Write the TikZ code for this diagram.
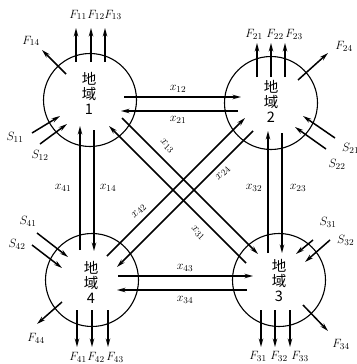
\documentclass[tikz,border=0pt]{standalone}
\usepackage{fontspec}
\newfontfamily\cjk{Noto Sans CJK SC}
\usetikzlibrary{arrows.meta}
\begin{document}
\begin{tikzpicture}[x=1pt,y=-1pt,
  region/.style={circle,draw,line width=1.1pt,minimum size=93pt,inner sep=0pt},
  rtext/.style={align=center,inner sep=0pt,font=\cjk\fontsize{14.5}{15}\selectfont},
  arr/.style={line width=1.5pt,-{Stealth[length=8.5pt,width=4.5pt]}},
  lab/.style={inner sep=0pt,font=\fontsize{13}{14}\selectfont}]
\useasboundingbox[fill=white] (0,0) rectangle (356,364);
% regions
\node[region] (c1) at (90,100) {};
\node[region] (c2) at (271,103) {};
\node[region] (c3) at (279,280) {};
\node[region] (c4) at (92,280) {};
\node[rtext] (t1) at (89,93) {地\\域\\\textit{1}};
\node[rtext] (t2) at (271,101) {地\\域\\2};
\node[rtext] (t3) at (279,281) {地\\域\\3};
\node[rtext] (t4) at (91,282) {地\\域\\\textit{4}};
% coordinates of flows
\coordinate (a12) at (124,97);  \coordinate (b12) at (241,97);
\coordinate (a21) at (238,111); \coordinate (b21) at (121,111);
\coordinate (a41) at (80,250);  \coordinate (b41) at (80,126);
\coordinate (a14) at (94,130);  \coordinate (b14) at (94,251);
\coordinate (a32) at (268,253); \coordinate (b32) at (268,131);
\coordinate (a23) at (282,133); \coordinate (b23) at (282,253);
\coordinate (a43) at (118,276); \coordinate (b43) at (253,276);
\coordinate (a34) at (247,290); \coordinate (b34) at (117,290);
\coordinate (a13) at (122,118); \coordinate (b13) at (258,254);
\coordinate (a31) at (246,263); \coordinate (b31) at (109,126);
\coordinate (a42) at (107,256); \coordinate (b42) at (245,118);
\coordinate (a24) at (253,131); \coordinate (b24) at (117,267);
\draw[arr] (a12) -- (b12);
\draw[arr] (a21) -- (b21);
\draw[arr] (a41) -- (b41);
\draw[arr] (a14) -- (b14);
\draw[arr] (a32) -- (b32);
\draw[arr] (a23) -- (b23);
\draw[arr] (a43) -- (b43);
\draw[arr] (a34) -- (b34);
\draw[arr] (a13) -- (b13);
\draw[arr] (a31) -- (b31);
\draw[arr] (a42) -- (b42);
\draw[arr] (a24) -- (b24);
\node[lab] (l12) at (178,89) {$x_{12}$};
\node[lab] (l21) at (178,120) {$x_{21}$};
\node[lab] (l41) at (63,188) {$x_{41}$};
\node[lab] (l14) at (108,188) {$x_{14}$};
\node[lab] (l32) at (254,188) {$x_{32}$};
\node[lab] (l23) at (298,188) {$x_{23}$};
\node[lab] (l43) at (185,268) {$x_{43}$};
\node[lab] (l34) at (185,300) {$x_{34}$};
\node[lab,rotate=-45] (l13) at (167,146) {$x_{13}$};
\node[lab,rotate=-45] (l31) at (198,233) {$x_{31}$};
\node[lab,rotate=45] (l42) at (139,211) {$x_{42}$};
\node[lab,rotate=45] (l24) at (223,173) {$x_{24}$};
% region 1 in/out
\coordinate (p11) at (76,62);  \coordinate (q11) at (76,28);
\coordinate (p12) at (91,62);  \coordinate (q12) at (91,28);
\coordinate (p13) at (105,62); \coordinate (q13) at (105,28);
\coordinate (p14) at (66,74);  \coordinate (q14) at (42,50);
\coordinate (s11) at (32,133); \coordinate (u11) at (60,116);
\coordinate (s12) at (40,144); \coordinate (u12) at (67,124);
\draw[arr] (p11) -- (q11);
\draw[arr] (p12) -- (q12);
\draw[arr] (p13) -- (q13);
\draw[arr] (p14) -- (q14);
\draw[arr] (s11) -- (u11);
\draw[arr] (s12) -- (u12);
\node[lab] (f11) at (78,15) {$F_{11}$};
\node[lab] (f12) at (96,15) {$F_{12}$};
\node[lab] (f13) at (113,15) {$F_{13}$};
\node[lab] (f14) at (31,41) {$F_{14}$};
\node[lab] (g11) at (15,137) {$S_{11}$};
\node[lab] (g12) at (40,155) {$S_{12}$};
% region 2
\coordinate (p21) at (257,77);  \coordinate (q21) at (257,43);
\coordinate (p22) at (271,77);  \coordinate (q22) at (271,43);
\coordinate (p23) at (285,77);  \coordinate (q23) at (285,43);
\coordinate (p24) at (298,80);  \coordinate (q24) at (328,53);
\coordinate (s21) at (335,138); \coordinate (u21) at (303,116);
\coordinate (s22) at (326,149); \coordinate (u22) at (295,127);
\draw[arr] (p21) -- (q21);
\draw[arr] (p22) -- (q22);
\draw[arr] (p23) -- (q23);
\draw[arr] (p24) -- (q24);
\draw[arr] (s21) -- (u21);
\draw[arr] (s22) -- (u22);
\node[lab] (f21) at (254,34) {$F_{21}$};
\node[lab] (f22) at (275,34) {$F_{22}$};
\node[lab] (f23) at (294,34) {$F_{23}$};
\node[lab] (f24) at (344,46) {$F_{24}$};
\node[lab,anchor=west] (g21) at (342,148) {$S_{21}$};
\node[lab] (g22) at (337,164) {$S_{22}$};
% region 3
\coordinate (p31) at (261,310); \coordinate (q31) at (261,347);
\coordinate (p32) at (275,310); \coordinate (q32) at (275,347);
\coordinate (p33) at (290,310); \coordinate (q33) at (290,347);
\coordinate (p34) at (303,305); \coordinate (q34) at (328,331);
\coordinate (s31) at (313,240); \coordinate (u31) at (296,254);
\coordinate (s32) at (330,240); \coordinate (u32) at (305,262);
\draw[arr] (p31) -- (q31);
\draw[arr] (p32) -- (q32);
\draw[arr] (p33) -- (q33);
\draw[arr] (p34) -- (q34);
\draw[arr] (s31) -- (u31);
\draw[arr] (s32) -- (u32);
\node[lab] (f31) at (258,356) {$F_{31}$};
\node[lab] (f32) at (279,356) {$F_{32}$};
\node[lab] (f33) at (300,356) {$F_{33}$};
\node[lab] (f34) at (341,344) {$F_{34}$};
\node[lab] (g31) at (328,222) {$S_{31}$};
\node[lab,anchor=west] (g32) at (337,240) {$S_{32}$};
% region 4
\coordinate (p41) at (77,310);  \coordinate (q41) at (77,347);
\coordinate (p42) at (92,310);  \coordinate (q42) at (92,347);
\coordinate (p43) at (108,310); \coordinate (q43) at (108,347);
\coordinate (p44) at (62,302);  \coordinate (q44) at (37,324);
\coordinate (s41) at (37,233);  \coordinate (u41) at (68,257);
\coordinate (s42) at (32,245);  \coordinate (u42) at (62,268);
\draw[arr] (p41) -- (q41);
\draw[arr] (p42) -- (q42);
\draw[arr] (p43) -- (q43);
\draw[arr] (p44) -- (q44);
\draw[arr] (s41) -- (u41);
\draw[arr] (s42) -- (u42);
\node[lab] (f41) at (78,357) {$F_{41}$};
\node[lab] (f42) at (96,357) {$F_{42}$};
\node[lab] (f43) at (115,357) {$F_{43}$};
\node[lab] (f44) at (36,338) {$F_{44}$};
\node[lab] (g41) at (28,221) {$S_{41}$};
\node[lab] (g42) at (17,244) {$S_{42}$};
\end{tikzpicture}
\end{document}
